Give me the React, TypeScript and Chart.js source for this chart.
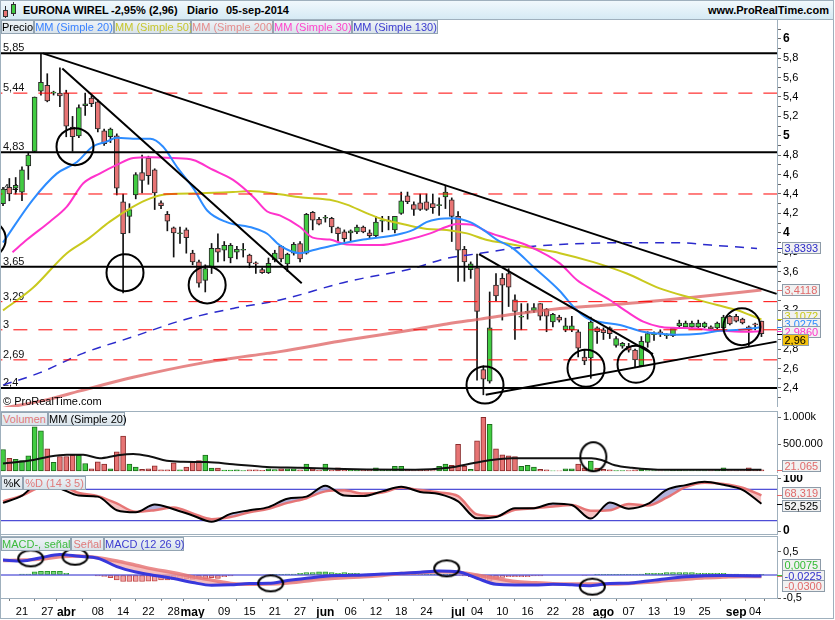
import React, { useEffect, useRef } from 'react';
import { Chart, registerables } from 'chart.js';

Chart.register(...registerables);

const FONT = "'Liberation Sans', Arial, Helvetica, sans-serif";
Chart.defaults.font.family = FONT;

// ---------- x range (session index) ----------
const X_MIN = -0.32;
const X_MAX = 122.46;

const X_TICK_IDX = [3, 7, 10, 15, 19, 23, 27, 30, 35, 39, 43, 47, 51, 55, 59, 63, 67, 72, 75, 79, 83, 87, 91, 95, 99, 103, 107, 111, 116, 119];
const X_TICK_LABELS = ['21', '27', 'abr', '08', '14', '22', '28', 'may', '09', '15', '21', '27', 'jun', '06', '12', '18', '24', 'jul', '04', '10', '16', '22', '28', 'ago', '07', '13', '19', '25', 'sep', '04'];
const MONTHS = ['abr', 'may', 'jun', 'jul', 'ago', 'sep'];

// ---------- price candles (18-mar-2014 .. 05-sep-2014) ----------
const OPEN = [4.30, 4.47, 4.46, 4.42, 4.69, 4.84, 5.46, 5.52, 5.44, 5.44, 5.44, 5.09, 5.00, 5.31, 5.39, 5.35, 5.05, 4.99, 5.00, 4.32, 4.17, 4.39, 4.62, 4.77, 4.65, 4.31, 4.19, 4.05, 3.99, 4.03, 3.79, 3.70, 3.51, 3.65, 3.84, 3.82, 3.74, 3.80, 3.82, 3.77, 3.69, 3.62, 3.59, 3.72, 3.86, 3.68, 3.79, 3.89, 3.79, 4.21, 4.14, 4.15, 4.15, 4.05, 4.01, 4.00, 4.01, 4.06, 4.00, 3.97, 4.12, 4.12, 4.03, 4.20, 4.38, 4.29, 4.31, 4.32, 4.30, 4.28, 4.37, 4.34, 4.17, 3.83, 3.62, 3.64, 2.59, 2.47, 3.46, 3.53, 3.58, 3.31, 3.13, 3.18, 3.20, 3.27, 3.21, 3.08, 3.13, 3.00, 3.00, 2.98, 2.72, 2.71, 3.02, 3.00, 3.02, 2.84, 2.83, 2.83, 2.79, 2.63, 2.87, 2.95, 2.98, 2.94, 2.94, 3.04, 3.03, 3.03, 3.03, 3.03, 3.03, 3.02, 3.02, 3.14, 3.14, 3.11, 3.03, 3.06, 3.09];
const HIGH = [4.47, 4.56, 4.57, 4.68, 4.82, 5.40, 5.85, 5.64, 5.46, 5.70, 5.47, 5.20, 5.32, 5.44, 5.41, 5.37, 5.07, 5.08, 5.02, 4.40, 4.30, 4.62, 4.80, 4.79, 4.66, 4.33, 4.22, 4.06, 4.06, 4.05, 3.82, 3.72, 3.67, 3.89, 3.99, 3.91, 3.89, 3.86, 3.89, 3.78, 3.70, 3.64, 3.74, 3.82, 3.87, 3.79, 3.90, 3.91, 4.20, 4.22, 4.16, 4.18, 4.16, 4.06, 4.03, 4.03, 4.08, 4.07, 4.03, 4.17, 4.17, 4.17, 4.17, 4.42, 4.42, 4.32, 4.40, 4.40, 4.40, 4.36, 4.49, 4.36, 4.22, 3.86, 3.70, 3.78, 2.63, 3.39, 3.58, 3.58, 3.63, 3.36, 3.27, 3.27, 3.27, 3.27, 3.22, 3.17, 3.15, 3.12, 3.14, 3.00, 2.80, 3.13, 3.03, 3.02, 3.03, 2.93, 2.87, 2.86, 2.80, 2.93, 2.98, 2.98, 3.00, 2.96, 3.02, 3.10, 3.09, 3.09, 3.10, 3.08, 3.04, 3.08, 3.15, 3.15, 3.16, 3.12, 3.04, 3.07, 3.09];
const LOW = [4.28, 4.33, 4.40, 4.33, 4.55, 4.83, 5.42, 5.35, 5.42, 5.30, 4.99, 4.84, 4.98, 5.21, 5.30, 5.04, 4.90, 4.93, 4.39, 3.38, 4.00, 4.35, 4.41, 4.50, 4.24, 4.25, 4.02, 3.75, 3.89, 3.79, 3.67, 3.44, 3.39, 3.58, 3.70, 3.71, 3.69, 3.73, 3.75, 3.64, 3.58, 3.58, 3.58, 3.70, 3.70, 3.60, 3.77, 3.70, 3.78, 4.03, 4.08, 4.11, 4.00, 3.91, 3.91, 3.91, 3.99, 4.00, 3.94, 3.96, 4.01, 4.03, 4.00, 4.19, 4.30, 4.18, 4.23, 4.23, 4.20, 4.18, 4.25, 3.91, 3.50, 3.50, 3.53, 2.48, 2.33, 2.45, 3.30, 3.10, 3.24, 2.90, 3.00, 3.11, 3.18, 3.10, 2.98, 3.03, 3.08, 2.98, 2.98, 2.72, 2.64, 2.50, 2.86, 2.90, 2.91, 2.82, 2.81, 2.77, 2.62, 2.62, 2.82, 2.89, 2.93, 2.91, 2.93, 3.02, 3.03, 3.02, 3.02, 3.02, 3.00, 3.01, 3.01, 3.05, 3.08, 3.06, 2.83, 3.00, 2.93];
const CLOSE = [4.45, 4.40, 4.49, 4.65, 4.80, 5.40, 5.55, 5.36, 5.45, 5.41, 5.10, 4.99, 5.29, 5.33, 5.33, 5.07, 4.92, 5.07, 4.46, 3.99, 4.24, 4.60, 4.54, 4.59, 4.41, 4.28, 4.12, 4.00, 4.00, 3.95, 3.70, 3.48, 3.63, 3.84, 3.80, 3.87, 3.87, 3.83, 3.82, 3.69, 3.68, 3.59, 3.685, 3.79, 3.73, 3.78, 3.88, 3.73, 4.19, 4.13, 4.09, 4.15, 4.06, 3.99, 3.94, 4.02, 4.06, 4.01, 3.97, 4.11, 4.12, 4.12, 4.17, 4.33, 4.32, 4.24, 4.24, 4.24, 4.26, 4.28, 4.42, 4.17, 3.82, 3.70, 3.68, 3.19, 2.49, 3.02, 3.35, 3.46, 3.44, 3.19, 3.13, 3.18, 3.23, 3.14, 3.14, 3.16, 3.10, 3.04, 3.04, 2.81, 2.68, 3.08, 2.98, 2.97, 2.96, 2.91, 2.86, 2.79, 2.69, 2.88, 2.96, 2.95, 2.97, 2.94, 3.02, 3.07, 3.07, 3.07, 3.07, 3.07, 3.01, 3.07, 3.13, 3.06, 3.09, 3.07, 3.00, 3.05, 2.96];

// ---------- moving averages, read as [session index, value] ----------
const MA20 = [[0, 3.90], [4.7, 4.34], [8.5, 4.61], [11.7, 4.73], [14.2, 4.89], [16.4, 4.94], [18, 4.98], [20.6, 4.97], [23.3, 4.97], [25.3, 4.89], [27.5, 4.68], [30.1, 4.46], [32.3, 4.23], [35.4, 4.11], [39.6, 4.05], [41.8, 3.99], [43.8, 3.87], [47, 3.79], [49, 3.82], [52.2, 3.87], [57, 3.93], [62.3, 3.98], [64.9, 4.03], [67, 4.11], [68.7, 4.14], [71.2, 4.15], [73.9, 4.11], [76, 4.03], [78.1, 3.93], [80.7, 3.84], [83.9, 3.65], [88.1, 3.40], [90.2, 3.24], [92.4, 3.12], [94.5, 3.08], [97.6, 3.05], [101.3, 2.98], [104, 2.96], [106.6, 2.95], [110.3, 2.96], [113.4, 2.99], [116.6, 3.00], [118.7, 3.015], [120, 3.03]];
const MA30 = [[1.5, 3.80], [3.8, 3.93], [7.4, 4.115], [10.1, 4.27], [12.7, 4.51], [15.3, 4.61], [18, 4.70], [20.6, 4.77], [23.3, 4.78], [26.9, 4.77], [30.1, 4.75], [33.2, 4.65], [36.4, 4.545], [39.6, 4.37], [41.8, 4.22], [43.8, 4.18], [47, 4.06], [49, 3.95], [51.7, 3.93], [54.4, 3.88], [59.6, 3.874], [63.9, 3.926], [67.6, 3.994], [70.2, 4.063], [71.8, 4.09], [74.4, 4.08], [76.6, 4.01], [79.7, 3.943], [83.4, 3.857], [88.1, 3.685], [90.8, 3.513], [93.3, 3.41], [96, 3.307], [98.7, 3.187], [101.3, 3.084], [103.9, 3.032], [106, 3.02], [109.2, 3.015], [111.9, 2.998], [114.6, 2.987], [117.1, 2.98], [120, 2.986]];
const MA50 = [[0, 3.20], [4.7, 3.43], [10.1, 3.79], [13.3, 3.93], [16.9, 4.115], [20.6, 4.27], [23.3, 4.355], [25.9, 4.397], [31.2, 4.407], [36.4, 4.42], [39.1, 4.43], [43.8, 4.397], [47, 4.366], [51.7, 4.34], [54.4, 4.29], [57.6, 4.20], [59.6, 4.15], [63.9, 4.08], [67.1, 4.04], [70.2, 4.03], [73.4, 3.994], [76.6, 3.926], [79.7, 3.89], [83.9, 3.84], [88.1, 3.79], [93.3, 3.70], [98.7, 3.58], [103.9, 3.427], [109.2, 3.324], [113, 3.255], [116.1, 3.204], [118.2, 3.152], [120, 3.107]];
const MA200 = [[0, 2.19], [7, 2.28], [12.2, 2.37], [20.6, 2.51], [31.2, 2.654], [41.8, 2.757], [43.8, 2.775], [54.4, 2.894], [64.9, 3.0], [70.2, 3.06], [75.5, 3.11], [80.7, 3.16], [88.1, 3.22], [98.7, 3.27], [109.2, 3.335], [120, 3.41]];
const MA130 = [[0, 2.43], [5.85, 2.558], [12.65, 2.757], [20.6, 2.929], [28.5, 3.101], [36.4, 3.22], [43.8, 3.307], [54.4, 3.496], [64.9, 3.634], [70.2, 3.737], [75.5, 3.788], [80.7, 3.84], [88.1, 3.88], [98.7, 3.898], [106.6, 3.898], [111.9, 3.874], [119.3, 3.839]];

// ---------- drawn objects on the price panel ----------
const LEVELS_SOLID = [5.85, 4.83, 3.65, 2.4];
const LEVELS_DASHED = [5.44, 4.4, 3.29, 3, 2.69];
const TRENDLINES = [[6.32, 5.85, 122.4, 3.37], [9.38, 5.695, 47.26, 3.48], [75.3, 3.78, 102.84, 2.75], [76.37, 2.33, 122.4, 2.878]];
const PRICE_CIRCLES = [[-2.5, 3.935], [11.39, 4.888], [19.3, 3.589], [32.3, 3.462], [76.26, 2.43], [92.24, 2.603], [100.15, 2.644], [116.9, 3.032]];

const PRICE_TICKS = [2.3, 2.4, 2.5, 2.6, 2.7, 2.8, 2.9, 3, 3.1, 3.2, 3.3, 3.4, 3.5, 3.6, 3.7, 3.8, 3.9, 4, 4.1, 4.2, 4.3, 4.4, 4.5, 4.6, 4.7, 4.8, 4.9, 5, 5.1, 5.2, 5.3, 5.4, 5.5, 5.6, 5.7, 5.8, 5.9, 6, 6.1];
const PRICE_TAGS = [
  { v: 3.8393, text: '3,8393', color: '#2b2bc8' },
  { v: 3.4118, text: '3,4118', color: '#e06a6a' },
  { v: 3.1072, text: '3,1072', color: '#c9c918' },
  { v: 3.0275, text: '3,0275', color: '#2d8cff' },
  { v: 2.986, text: '2,9860', color: '#ff33cc' },
  { v: 2.96, text: '2,96', color: '#000', bg: '#f4c20d' },
];

// ---------- volume (thousands) ----------
const VOLUME = [398, 236, 217, 191, 282, 820, 742, 411, 159, 269, 269, 288, 288, 139, 40, 172, 126, 42, 353, 645, 126, 74, 29, 42, 94, 22, 22, 152, 22, 74, 159, 191, 295, 55, 55, 15, 15, 20, 8, 22, 22, 12, 42, 25, 42, 42, 42, 22, 126, 42, 12, 126, 12, 61, 20, 15, 15, 15, 15, 61, 29, 20, 87, 87, 12, 9, 22, 22, 9, 87, 126, 107, 496, 87, 29, 561, 995, 866, 411, 301, 282, 269, 87, 107, 74, 29, 22, 5, 5, 42, 42, 126, 61, 185, 55, 29, 22, 9, 9, 9, 22, 42, 10, 10, 5, 5, 20, 20, 10, 10, 10, 10, 10, 15, 61, 10, 10, 10, 61, 15, 21];
const VOL_MA = [[0, 139], [4.8, 204], [7.4, 269], [10.1, 301], [12.7, 301], [15.3, 236], [18, 288], [20.6, 314], [23.3, 269], [25.9, 191], [28.5, 172], [32.2, 165], [36.4, 126], [41.7, 74], [47, 61], [52.3, 42], [57.5, 29], [65.2, 22], [70.5, 61], [74.7, 152], [77.3, 204], [80.5, 236], [83.6, 236], [88.9, 236], [93.1, 236], [94.7, 204], [96.8, 107], [99.5, 61], [104.7, 22], [120, 21]];
const VOL_TICKS = [500, 1000];
const VOL_TICK_LABELS = ['500.000', '1.000k'];
const VOL_CIRCLES = [[93.4, 265]];
const VOL_TAGS = [{ v: 21.065, text: '21.065', color: '#e06a6a' }];

// ---------- stochastic & MACD, sampled every 3 sessions ----------
const OSC_IDX = [0, 3, 6, 9, 12, 15, 18, 21, 24, 27, 30, 33, 36, 39, 42, 45, 48, 51, 54, 57, 60, 63, 66, 69, 72, 75, 78, 81, 84, 87, 90, 93, 96, 99, 102, 105, 108, 111, 114, 117, 120];
const STOCH_K = [54, 68, 95, 82, 68, 66, 40, 36, 51, 42, 30, 18, 33, 40, 46, 62, 66, 87, 68, 67, 76, 85, 75, 71, 57, 24.5, 27, 43.6, 44, 53, 50, 24, 55, 43, 52, 79, 88, 94.6, 88.5, 79, 52.5];
const STOCH_D = [57, 68, 85, 88, 73, 67, 53, 37, 40, 45, 34, 23, 27, 36, 43, 54, 63, 76, 78, 72, 74, 83, 78.5, 74, 67, 32, 28.5, 41, 43.6, 47, 50, 39, 40, 52, 49, 64, 84, 92.5, 90.2, 83, 68.3];
const STOCH_LEVELS = [80, 20];
const STOCH_TICKS = [0, 100];
const STOCH_TAGS = [{ v: 68.319, text: '68,319', color: '#e06a6a' }, { v: 52.525, text: '52,525', color: '#000' }];

const MACD = [0.32, 0.30, 0.37, 0.44, 0.40, 0.36, 0.18, 0.065, -0.01, -0.075, -0.16, -0.22, -0.21, -0.18, -0.178, -0.12, -0.07, -0.025, -0.01, 0.0, 0.02, 0.036, 0.06, 0.086, 0.07, -0.07, -0.20, -0.214, -0.214, -0.20, -0.21, -0.228, -0.18, -0.175, -0.128, -0.08, -0.04, -0.014, -0.01, -0.014, -0.0225];
const SIGNAL = [0.31, 0.32, 0.34, 0.39, 0.405, 0.37, 0.30, 0.21, 0.12, 0.05, -0.04, -0.11, -0.18, -0.20, -0.195, -0.17, -0.128, -0.086, -0.057, -0.04, -0.01, 0.03, 0.05, 0.07, 0.06, 0.0, -0.07, -0.14, -0.165, -0.185, -0.193, -0.195, -0.193, -0.18, -0.157, -0.12, -0.09, -0.06, -0.043, -0.03, -0.03];
const HIST = [0, 0, 0, 0.02, 0.02, 0.07, 0.08, 0.08, 0.08, 0.08, 0.035, 0, 0, 0, 0, -0.02, -0.03, -0.057, -0.107, -0.14, -0.14, -0.14, -0.14, -0.13, -0.13, -0.107, -0.107, -0.093, -0.107, -0.086, -0.093, -0.071, -0.086, -0.057, -0.071, -0.036, -0.02, 0, 0, 0, 0, 0, 0, 0.014, 0.014, 0.02, 0.02, 0.036, 0.05, 0.05, 0.07, 0.07, 0.05, 0.036, 0.05, 0.036, 0.036, 0.02, 0.02, 0.036, 0.036, 0.036, 0.036, 0.05, 0.05, 0.05, 0.02, 0.02, 0.02, 0.02, 0.02, 0.02, -0.01, -0.02, -0.036, -0.071, -0.107, -0.128, -0.086, -0.05, -0.036, -0.036, -0.036, -0.036, -0.02, -0.02, 0, 0, 0, 0, 0, 0, -0.01, 0, 0.014, 0.014, 0.014, 0.014, 0.014, 0.014, 0.014, 0.02, 0.036, 0.036, 0.036, 0.05, 0.05, 0.05, 0.05, 0.05, 0.036, 0.036, 0.036, 0.036, 0.036, 0.02, 0.02, 0.014, 0.014, 0.01, 0.0075];
const MACD_TICKS = [-0.5, 0, 0.5];
const MACD_CIRCLES = [[4.38, 0.357], [11.39, 0.392], [42.35, -0.178], [70.2, 0.143], [93.24, -0.25]];
const MACD_TAGS = [
  { v: 0.0075, text: '0,0075', color: '#33bb33' },
  { v: -0.0225, text: '-0,0225', color: '#3333cc' },
  { v: -0.03, text: '-0,0300', color: '#e06a6a' },
];

// ---------- styling ----------
const GREEN = '#42cc42';
const RED = '#e77474';
const FRAME = '#9fb0bd';
const fmt = (v: number) => String(v).replace('.', ',');
const pts = (arr: number[][]) => arr.map(([x, y]) => ({ x, y }));

function ellipseImage(rx: number, ry: number) {
  const c = document.createElement('canvas');
  c.width = Math.ceil(rx * 2 + 4);
  c.height = Math.ceil(ry * 2 + 4);
  const g = c.getContext('2d') as CanvasRenderingContext2D;
  g.strokeStyle = '#000';
  g.lineWidth = 2;
  g.beginPath();
  g.ellipse(c.width / 2, c.height / 2, rx, ry, 0, 0, Math.PI * 2);
  g.stroke();
  return c;
}

const smooth = (data: any, color: string, width: number, extra: any = {}) => ({
  type: 'line', data, borderColor: color, borderWidth: width, pointRadius: 0, fill: false,
  tension: 0.4, cubicInterpolationMode: 'monotone', ...extra,
});
const hline = (v: number, color: string, width: number, extra: any = {}) => ({
  type: 'line', data: [{ x: X_MIN - 2, y: v }, { x: X_MAX + 2, y: v }],
  borderColor: color, borderWidth: width, pointRadius: 0, fill: false, tension: 0, ...extra,
});

const noPad = (s: any) => { s.paddingTop = 0; s.paddingBottom = 0; s.paddingLeft = 0; s.paddingRight = 0; };

function xScale(display: boolean) {
  return {
    type: 'linear', min: X_MIN, max: X_MAX, bounds: 'data', offset: false, display,
    grid: { display: true, drawOnChartArea: false, drawTicks: true, tickLength: 3, tickColor: '#777' },
    border: { display: false },
    afterBuildTicks: (s: any) => { s.ticks = X_TICK_IDX.map((v) => ({ value: v })); },
    afterFit: (s: any) => { s.height = display ? 22 : 0; noPad(s); },
    ticks: {
      autoSkip: false, maxRotation: 0, minRotation: 0, padding: 4, color: '#000',
      callback: (_v: any, i: number) => X_TICK_LABELS[i],
      font: (c: any) => (MONTHS.includes(X_TICK_LABELS[c.index]) ? { size: 12, weight: 'bold', family: FONT } : { size: 11, family: FONT }),
    },
  };
}

function yScale(min: number, max: number, ticks: number[], label: (v: number) => string, font: any) {
  return {
    type: 'linear', position: 'right', min, max, bounds: 'data',
    afterFit: (s: any) => { s.width = 58; noPad(s); },
    afterBuildTicks: (s: any) => { s.ticks = ticks.map((v) => ({ value: v })); },
    grid: { display: true, drawOnChartArea: false, drawTicks: true, tickLength: 4, tickColor: '#666' },
    border: { display: false },
    ticks: { autoSkip: false, padding: 2, color: '#000', callback: (v: number) => label(v), font },
  };
}

const framePlugin = {
  id: 'frame',
  afterDraw(chart: any) {
    const { ctx, chartArea: a } = chart;
    ctx.save();
    ctx.strokeStyle = FRAME;
    ctx.lineWidth = 1;
    ctx.strokeRect(a.left - 0.5, a.top - 0.5, a.right - a.left + 1, a.bottom - a.top + 1);
    ctx.restore();
  },
};

function tagPlugin(tags: any[], gap: number) {
  return {
    id: 'tags',
    afterDraw(chart: any) {
      const { ctx, chartArea: a } = chart;
      const ys = chart.scales.y;
      const items = tags.map((t) => ({ ...t, y0: ys.getPixelForValue(t.v), y: 0 })).sort((p, q) => p.y0 - q.y0);
      const groups: any[][] = [];
      items.forEach((it) => {
        const g = groups[groups.length - 1];
        if (g && it.y0 - g[g.length - 1].y0 < gap) g.push(it); else groups.push([it]);
      });
      groups.forEach((g) => {
        const mean = g.reduce((s, it) => s + it.y0, 0) / g.length;
        g.forEach((it, i) => { it.y = mean + (i - (g.length - 1) / 2) * gap; });
      });
      ctx.save();
      ctx.font = `11px ${FONT}`;
      ctx.textBaseline = 'middle';
      items.forEach((it) => {
        ctx.strokeStyle = it.color;
        ctx.lineWidth = 1;
        ctx.beginPath();
        ctx.moveTo(a.right, Math.round(it.y0) + 0.5);
        ctx.lineTo(a.right + 5, Math.round(it.y0) + 0.5);
        ctx.stroke();
      });
      items.forEach((it) => {
        const h = 12;
        const y = Math.round(Math.min(Math.max(it.y, a.top + h / 2 + 1), a.bottom - h / 2 - 1));
        const w = Math.ceil(ctx.measureText(it.text).width) + 5;
        const x = a.right + 5;
        ctx.fillStyle = it.bg || '#f1f1f1';
        ctx.fillRect(x, y - h / 2, w, h);
        ctx.strokeStyle = '#8d9ba8';
        ctx.strokeRect(x + 0.5, y - h / 2 + 0.5, w - 1, h - 1);
        ctx.fillStyle = it.color;
        ctx.fillText(it.text, x + 2.5, y + 0.5);
      });
      ctx.restore();
    },
  };
}

const levelLabelPlugin = {
  id: 'levelLabels',
  beforeDatasetsDraw(chart: any) {
    const { ctx, chartArea: a } = chart;
    const ys = chart.scales.y;
    ctx.save();
    ctx.font = `11px ${FONT}`;
    ctx.fillStyle = '#111';
    ctx.textBaseline = 'alphabetic';
    [...LEVELS_SOLID, ...LEVELS_DASHED].forEach((v) => ctx.fillText(fmt(v), a.left + 2, ys.getPixelForValue(v) - 2));
    ctx.restore();
  },
};

const commonOptions = (padding: any) => ({
  responsive: false, animation: false, devicePixelRatio: 1, events: [],
  layout: { autoPadding: false, padding },
  plugins: { legend: { display: false }, tooltip: { enabled: false } },
});

function priceConfig(): any {
  const up = OPEN.map((o, i) => CLOSE[i] >= o);
  return {
    type: 'line',
    data: {
      datasets: [
        { type: 'line', data: pts(PRICE_CIRCLES), showLine: false, pointStyle: 'circle', pointRadius: 18.5, pointBorderWidth: 2, pointBorderColor: '#000', pointBackgroundColor: 'rgba(0,0,0,0)', order: 0 },
        ...TRENDLINES.map(([x0, y0, x1, y1]) => ({ type: 'line', data: [{ x: x0, y: y0 }, { x: x1, y: y1 }], borderColor: '#000', borderWidth: 2, pointRadius: 0, tension: 0, order: 1 })),
        ...LEVELS_SOLID.map((v) => hline(v, '#000', 2, { order: 2 })),
        ...LEVELS_DASHED.map((v) => hline(v, '#ff0000', 1, { borderDash: [14, 11], order: 2 })),
        smooth(pts(MA20), '#2d8cff', 2, { order: 3 }),
        smooth(pts(MA30), '#ff33cc', 2, { order: 3 }),
        smooth(pts(MA50), '#c9c91e', 2, { order: 3 }),
        smooth(pts(MA200), 'rgba(222,96,96,0.75)', 3, { order: 3 }),
        smooth(pts(MA130), '#2a2acc', 1.5, { borderDash: [9, 7], order: 3 }),
        {
          type: 'bar', data: OPEN.map((o, i) => ({ x: i, y: [o, CLOSE[i]] })),
          backgroundColor: up.map((u) => (u ? GREEN : RED)), borderColor: '#2a2a2a', borderWidth: 1,
          borderSkipped: false, barThickness: 5, minBarLength: 1, grouped: false, order: 4,
        },
        {
          type: 'bar', data: OPEN.map((_, i) => ({ x: i, y: [LOW[i], HIGH[i]] })),
          backgroundColor: '#111', borderWidth: 0, barThickness: 1, grouped: false, order: 5,
        },
      ],
    },
    options: {
      ...commonOptions({ left: 1, top: 0, right: 0, bottom: 0 }),
      scales: {
        x: xScale(false),
        y: yScale(2.2041, 6.1938, PRICE_TICKS, (v) => (Math.round(v * 10) % 2 ? '' : fmt(Math.round(v * 10) / 10)), (c: any) => {
          const v = c.tick ? c.tick.value : 0;
          const isInt = Math.abs(v - Math.round(v)) < 1e-6;
          return { size: isInt ? 12 : 11, weight: isInt ? 'bold' : 'normal', family: FONT };
        }),
      },
    },
    plugins: [levelLabelPlugin, framePlugin, tagPlugin(PRICE_TAGS, 8)],
  };
}

function volumeConfig(): any {
  const up = OPEN.map((o, i) => CLOSE[i] >= o);
  return {
    type: 'line',
    data: {
      datasets: [
        { type: 'line', data: pts(VOL_CIRCLES), showLine: false, pointStyle: ellipseImage(13, 14.5), pointRadius: 10, order: 0 },
        smooth(pts(VOL_MA), '#111', 2, { order: 1 }),
        {
          type: 'bar', data: VOLUME.map((v, i) => ({ x: i, y: v })),
          backgroundColor: up.map((u) => (u ? GREEN : RED)), borderColor: up.map((u) => (u ? '#1d6b1d' : '#8a2b2b')), borderWidth: 1,
          borderSkipped: false, barThickness: 5, grouped: false, order: 2,
        },
      ],
    },
    options: {
      ...commonOptions({ left: 1, top: 1, right: 0, bottom: 0 }),
      scales: {
        x: xScale(false),
        y: yScale(-37, 1092.6, VOL_TICKS, (v) => VOL_TICK_LABELS[VOL_TICKS.indexOf(v)], { size: 11, family: FONT }),
      },
    },
    plugins: [framePlugin, tagPlugin(VOL_TAGS, 12)],
  };
}

function stochConfig(): any {
  return {
    type: 'line',
    data: {
      datasets: [
        smooth(OSC_IDX.map((x, i) => ({ x, y: STOCH_K[i] })), '#000', 2, { order: 0 }),
        smooth(OSC_IDX.map((x, i) => ({ x, y: STOCH_D[i] })), 'rgba(230,112,112,0.95)', 2.5, {
          order: 1, fill: { target: 0, above: 'rgba(244,184,184,0.85)', below: 'rgba(158,158,210,0.8)' },
        }),
        ...STOCH_LEVELS.map((v) => hline(v, '#2222cc', 1, { order: 2 })),
      ],
    },
    options: {
      ...commonOptions({ left: 1, top: 1, right: 0, bottom: 1 }),
      scales: {
        x: xScale(false),
        y: yScale(-5.4, 105.4, STOCH_TICKS, (v) => String(v), { size: 12, weight: 'bold', family: FONT }),
      },
    },
    plugins: [framePlugin, tagPlugin(STOCH_TAGS, 13)],
  };
}

function macdConfig(): any {
  return {
    type: 'line',
    data: {
      datasets: [
        smooth(OSC_IDX.map((x, i) => ({ x, y: MACD[i] })), '#3838dc', 3, { order: 1 }),
        smooth(OSC_IDX.map((x, i) => ({ x, y: SIGNAL[i] })), 'rgba(230,120,120,0.85)', 3.5, {
          order: 2, fill: { target: 0, above: 'rgba(242,170,170,0.75)', below: 'rgba(160,160,228,0.7)' },
        }),
        {
          type: 'bar', data: HIST.map((v, i) => ({ x: i, y: v })),
          backgroundColor: HIST.map((v) => (v >= 0 ? '#7ad87a' : '#f0a4a4')),
          borderColor: HIST.map((v) => (v >= 0 ? '#2a9a2a' : '#c24848')), borderWidth: 1,
          borderSkipped: false, barThickness: 5, grouped: false, order: 4,
        },
        hline(0, '#2222cc', 1, { order: 3 }),
        { type: 'line', data: pts(MACD_CIRCLES), showLine: false, pointStyle: ellipseImage(12.5, 8), pointRadius: 10, order: 0 },
      ],
    },
    options: {
      ...commonOptions({ left: 1, top: 1, right: 0, bottom: 0 }),
      scales: {
        x: xScale(true),
        y: yScale(-0.4925, 0.8137, MACD_TICKS, (v) => fmt(v), { size: 11, family: FONT }),
      },
    },
    plugins: [framePlugin, tagPlugin(MACD_TAGS, 10.5)],
  };
}

const TAB_BG = 'linear-gradient(#eef3f7, #d9e3ea)';
const PRICE_TABS = [
  { t: 'Precio', c: '#000', x: 1, w: 33 },
  { t: 'MM (Simple 20)', c: '#3a82ff', x: 34, w: 80 },
  { t: 'MM (Simple 50)', c: '#c6c62e', x: 114, w: 77 },
  { t: 'MM (Simple 200)', c: '#e58c8c', x: 191, w: 82 },
  { t: 'MM (Simple 30)', c: '#ff44cc', x: 273, w: 79 },
  { t: 'MM (Simple 130)', c: '#3c3cd0', x: 352, w: 86 },
];
const VOL_TABS = [
  { t: 'Volumen', c: '#e07a7a', x: 1, w: 47 },
  { t: 'MM (Simple 20)', c: '#000', x: 48, w: 77 },
];
const STOCH_TABS = [
  { t: '%K', c: '#000', x: 1, w: 22 },
  { t: '%D (14 3 5)', c: '#e07a7a', x: 23, w: 63 },
];
const MACD_TABS = [
  { t: 'MACD-, señal', c: '#3dbb3d', x: 1, w: 70 },
  { t: 'Señal', c: '#e07a7a', x: 71, w: 33 },
  { t: 'MACD (12 26 9)', c: '#3c3cd0', x: 104, w: 80 },
];

function Tabs({ tabs, top }: { tabs: any[]; top: number }) {
  return (
    <>
      {tabs.map((tb) => (
        <div key={tb.t + tb.x} style={{
          position: 'absolute', left: tb.x, top, width: tb.w, height: 14, boxSizing: 'border-box',
          background: TAB_BG, border: '1px solid #93a4b2', color: tb.c, fontSize: 11, lineHeight: '12px',
          textAlign: 'center', whiteSpace: 'nowrap', fontFamily: FONT,
        }}>{tb.t}</div>
      ))}
    </>
  );
}

export default function App() {
  const priceRef = useRef<HTMLCanvasElement>(null);
  const volRef = useRef<HTMLCanvasElement>(null);
  const stochRef = useRef<HTMLCanvasElement>(null);
  const macdRef = useRef<HTMLCanvasElement>(null);

  useEffect(() => {
    const charts = [
      new Chart(priceRef.current as HTMLCanvasElement, priceConfig()),
      new Chart(volRef.current as HTMLCanvasElement, volumeConfig()),
      new Chart(stochRef.current as HTMLCanvasElement, stochConfig()),
      new Chart(macdRef.current as HTMLCanvasElement, macdConfig()),
    ];
    return () => charts.forEach((c) => c.destroy());
  }, []);

  const cv = (top: number, height: number) => ({ position: 'absolute' as const, left: 0, top, width: 835, height, display: 'block' });
  const hdr = (left: number) => ({ position: 'absolute' as const, left, top: 4, fontSize: 11, fontWeight: 'bold' as const, lineHeight: '13px', color: '#000', whiteSpace: 'nowrap' as const });

  return (
    <div style={{ position: 'fixed', left: 0, top: 0, width: 835, height: 620, background: '#fff', overflow: 'hidden', fontFamily: FONT }}>
      <canvas ref={priceRef} width={835} height={387} style={cv(20, 387)} />
      <canvas ref={volRef} width={835} height={62} style={cv(411, 62)} />
      <canvas ref={stochRef} width={835} height={60} style={cv(475, 60)} />
      <canvas ref={macdRef} width={835} height={84} style={cv(536, 84)} />

      <div style={{ position: 'absolute', left: 0, top: 0, width: 834, height: 20, boxSizing: 'border-box', background: 'linear-gradient(#f2f9fd, #d6eaf4)', borderBottom: '1px solid #9fb0bd' }}>
        <div style={{ position: 'absolute', left: 5, top: 6, width: 1, height: 12, background: '#333' }} />
        <div style={{ position: 'absolute', left: 3, top: 10, width: 5, height: 7, boxSizing: 'border-box', background: RED, border: '1px solid #333' }} />
        <div style={{ position: 'absolute', left: 13, top: 2, width: 1, height: 14, background: '#333' }} />
        <div style={{ position: 'absolute', left: 11, top: 4, width: 5, height: 10, boxSizing: 'border-box', background: GREEN, border: '1px solid #333' }} />
        <span style={hdr(23)}>EURONA WIREL</span>
        <span style={hdr(111)}>-2,95% (2,96)</span>
        <span style={hdr(187)}>Diario</span>
        <span style={hdr(226)}>05-sep-2014</span>
        <span style={{ ...hdr(0), left: undefined, right: 5 }}>www.ProRealTime.com</span>
      </div>

      <Tabs tabs={PRICE_TABS} top={20} />
      <Tabs tabs={VOL_TABS} top={412} />
      <Tabs tabs={STOCH_TABS} top={476} />
      <Tabs tabs={MACD_TABS} top={537} />

      <div style={{ position: 'absolute', left: 3, top: 395, fontSize: 11, lineHeight: '13px', color: '#000' }}>© ProRealTime.com</div>
      <div style={{ position: 'absolute', left: 0, top: 0, width: 834, height: 619, boxSizing: 'border-box', border: `1px solid ${FRAME}`, pointerEvents: 'none' }} />
    </div>
  );
}
